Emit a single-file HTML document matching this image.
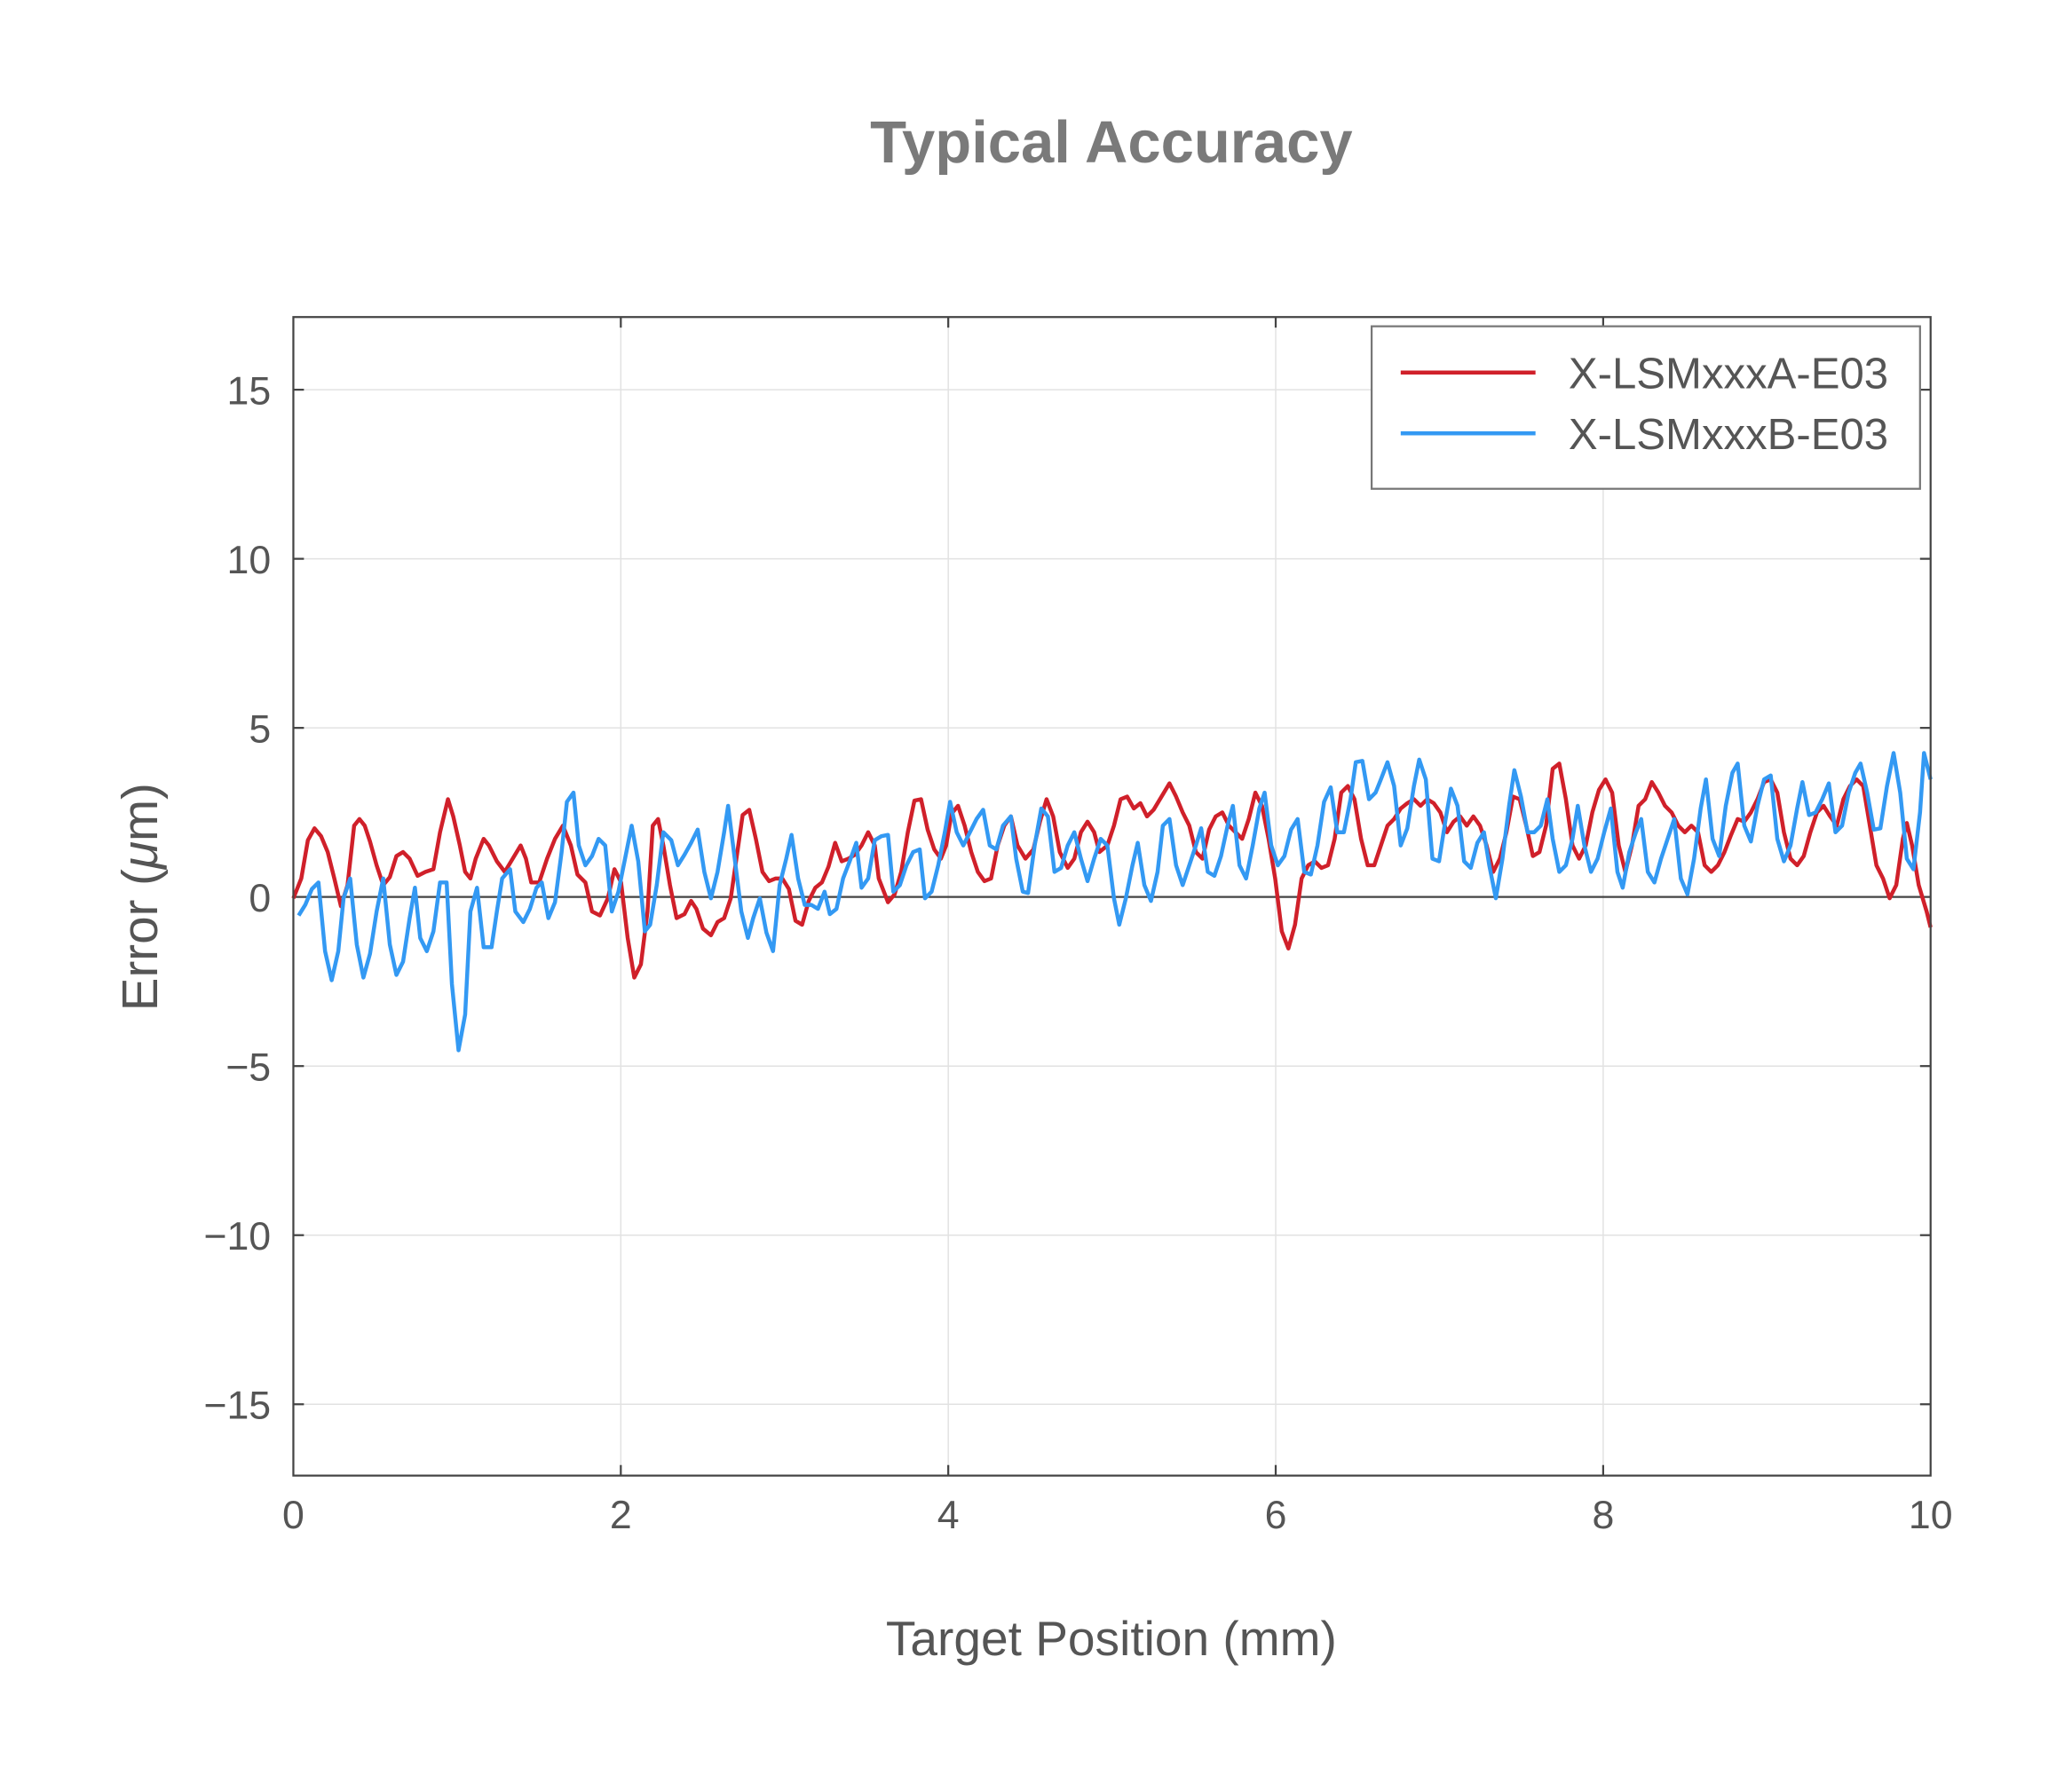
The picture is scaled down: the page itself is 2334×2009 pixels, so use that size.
<!DOCTYPE html>
<html><head><meta charset="utf-8"><style>
html,body{margin:0;padding:0;background:#fff;}
svg{display:block;}
text{font-family:"Liberation Sans",Arial,sans-serif;}
</style></head><body>
<svg width="2334" height="2009" viewBox="0 0 1568 1349.7" preserveAspectRatio="none" xmlns="http://www.w3.org/2000/svg">
<rect width="1568" height="1349.7" fill="#fff"/>
<text x="841" y="123" text-anchor="middle" font-size="45" font-weight="bold" fill="#7a7a7a">Typical Accuracy</text>
<g stroke="#e2e2e2" stroke-width="1">
<line x1="469.8" y1="240" x2="469.8" y2="1117"/><line x1="717.6" y1="240" x2="717.6" y2="1117"/><line x1="965.4" y1="240" x2="965.4" y2="1117"/><line x1="1213.2" y1="240" x2="1213.2" y2="1117"/>
<line x1="222" y1="295" x2="1461" y2="295"/><line x1="222" y1="423" x2="1461" y2="423"/><line x1="222" y1="551" x2="1461" y2="551"/><line x1="222" y1="807" x2="1461" y2="807"/><line x1="222" y1="935" x2="1461" y2="935"/><line x1="222" y1="1063" x2="1461" y2="1063"/>
</g>
<line x1="222" y1="679" x2="1461" y2="679" stroke="#444" stroke-width="1.5"/>
<g stroke="#444" stroke-width="1.5">
<line x1="222" y1="295" x2="230" y2="295"/><line x1="222" y1="423" x2="230" y2="423"/><line x1="222" y1="551" x2="230" y2="551"/><line x1="222" y1="807" x2="230" y2="807"/><line x1="222" y1="935" x2="230" y2="935"/><line x1="222" y1="1063" x2="230" y2="1063"/>
<line x1="1453" y1="295" x2="1461" y2="295"/><line x1="1453" y1="423" x2="1461" y2="423"/><line x1="1453" y1="551" x2="1461" y2="551"/><line x1="1453" y1="807" x2="1461" y2="807"/><line x1="1453" y1="935" x2="1461" y2="935"/><line x1="1453" y1="1063" x2="1461" y2="1063"/>
<line x1="469.8" y1="1117" x2="469.8" y2="1109"/><line x1="717.6" y1="1117" x2="717.6" y2="1109"/><line x1="965.4" y1="1117" x2="965.4" y2="1109"/><line x1="1213.2" y1="1117" x2="1213.2" y2="1109"/>
<line x1="469.8" y1="240" x2="469.8" y2="248"/><line x1="717.6" y1="240" x2="717.6" y2="248"/><line x1="965.4" y1="240" x2="965.4" y2="248"/><line x1="1213.2" y1="240" x2="1213.2" y2="248"/>
</g>
<polyline fill="none" stroke="#d0202a" stroke-width="3" stroke-linejoin="round" points="222,680 228,665 233,636 238,627 243,633 248,645 253,665 258,686 263,670 268,625 272,620 276,625 280,637 285,655 290,670 295,664 300,648 305,645 310,650 316,663 322,660 328,658 333,630 339,605 343,618 348,640 352,660 356,665 360,650 366,635 370,640 376,652 382,660 388,650 394,640 398,650 402,668 408,668 414,650 420,635 426,625 432,640 437,662 443,668 448,690 454,693 460,680 465,658 470,668 475,710 480,740 485,730 490,690 494,625 498,620 502,640 507,670 512,695 518,692 523,682 527,688 532,703 538,708 543,698 548,695 553,680 558,645 562,617 567,613 572,635 577,660 582,667 587,665 592,665 597,673 602,697 607,700 612,682 617,672 622,668 627,656 632,638 637,652 642,650 647,647 652,640 657,630 662,640 665,665 672,683 677,677 682,660 687,630 692,606 697,605 702,628 707,643 712,650 716,640 720,616 725,610 730,625 735,645 740,660 745,667 750,665 755,640 760,625 765,618 770,640 776,650 782,643 787,622 792,605 797,618 802,645 808,657 813,650 818,630 823,622 828,630 832,645 838,640 843,625 848,605 853,603 858,612 863,608 868,618 873,613 879,603 885,593 890,603 895,615 900,625 905,645 910,650 915,628 920,618 925,615 930,625 935,630 940,635 945,620 950,600 955,610 960,635 965,665 970,705 975,718 980,700 985,665 990,655 995,652 1000,657 1005,655 1010,635 1015,600 1020,595 1025,605 1030,635 1035,655 1040,655 1045,640 1050,625 1055,620 1060,612 1065,608 1070,605 1075,610 1080,605 1085,608 1090,615 1095,630 1100,622 1105,618 1110,625 1115,618 1120,625 1125,640 1130,660 1135,650 1140,630 1145,603 1150,605 1155,625 1160,648 1165,645 1170,625 1175,582 1180,578 1185,605 1190,640 1195,650 1200,640 1205,615 1210,598 1215,590 1220,600 1225,640 1230,660 1235,640 1240,610 1245,605 1250,592 1255,600 1260,610 1265,615 1270,625 1275,630 1280,625 1285,630 1290,655 1295,660 1300,655 1305,645 1310,632 1315,620 1320,622 1325,615 1330,605 1335,592 1340,590 1345,600 1350,630 1355,650 1360,655 1365,648 1370,630 1375,615 1380,610 1385,618 1390,625 1395,605 1400,595 1405,590 1410,595 1415,625 1420,655 1425,665 1430,680 1435,670 1440,635 1443,623 1447,640 1452,670 1458,690 1461,702"/>
<polyline fill="none" stroke="#3399f3" stroke-width="3" stroke-linejoin="round" points="226,693 231,685 236,673 241,668 246,720 251,742 256,720 260,680 265,665 270,715 275,740 280,722 285,690 290,665 295,715 300,738 305,728 310,695 314,672 318,710 323,720 328,705 333,668 338,668 342,745 347,795 352,768 356,690 361,672 366,717 372,717 376,690 380,665 386,658 390,690 396,698 401,688 406,672 410,668 415,695 420,683 425,645 429,607 434,600 438,640 443,655 448,648 453,635 458,640 463,690 468,675 473,650 478,625 483,652 488,705 492,700 497,670 502,630 508,636 513,655 518,647 523,638 528,628 533,660 538,680 543,660 548,630 551,610 556,650 561,690 566,710 570,695 575,680 580,706 585,720 590,670 595,650 599,632 604,665 609,685 614,685 619,688 624,675 628,692 633,688 638,665 643,652 648,638 652,672 657,665 662,636 667,633 672,632 676,675 681,670 686,655 691,645 696,643 700,680 705,675 710,655 715,630 719,607 724,630 729,640 734,630 739,620 744,613 749,640 754,643 759,625 765,618 769,650 774,675 778,676 783,640 788,612 793,618 798,660 803,657 808,640 813,630 818,650 823,667 828,650 833,635 838,640 843,680 847,700 852,680 857,655 861,638 866,670 871,682 876,660 880,625 885,620 890,655 895,670 900,655 905,640 909,627 914,660 919,663 924,648 929,625 933,610 938,655 943,665 948,640 953,612 957,600 962,640 967,655 972,648 977,628 982,620 987,660 992,662 997,640 1002,607 1007,596 1012,630 1017,630 1022,605 1026,577 1031,576 1036,605 1041,600 1045,590 1050,577 1055,595 1060,640 1065,627 1070,595 1074,575 1079,590 1084,650 1089,652 1094,620 1098,597 1103,610 1108,652 1113,657 1118,638 1123,630 1127,655 1132,680 1137,650 1142,610 1146,583 1151,603 1156,630 1161,630 1166,625 1171,605 1175,635 1180,660 1185,655 1190,635 1194,610 1199,640 1204,660 1209,650 1214,630 1219,612 1224,660 1228,672 1233,645 1238,630 1242,620 1247,660 1252,668 1257,650 1262,635 1267,620 1272,665 1277,677 1282,650 1287,612 1291,590 1296,635 1301,648 1306,610 1311,585 1315,578 1320,625 1325,637 1330,610 1335,590 1340,587 1345,635 1350,652 1355,640 1360,612 1364,592 1369,617 1374,615 1379,605 1384,593 1389,630 1394,625 1399,600 1404,585 1408,578 1413,600 1418,628 1423,627 1428,595 1433,570 1438,600 1443,650 1448,658 1453,615 1456,570 1461,590"/>
<rect x="222" y="240" width="1239" height="877" fill="none" stroke="#444" stroke-width="1.5"/>
<rect x="1038" y="247" width="415" height="123" fill="#fff" stroke="#777" stroke-width="1.5"/>
<line x1="1060" y1="282" x2="1162" y2="282" stroke="#d0202a" stroke-width="3"/>
<line x1="1060" y1="328" x2="1162" y2="328" stroke="#3399f3" stroke-width="3"/>
<g font-size="33" fill="#555">
<text x="1187" y="294">X-LSMxxxA-E03</text>
<text x="1187" y="340">X-LSMxxxB-E03</text>
</g>
<g font-size="30" fill="#555" text-anchor="end">
<text x="205" y="306">15</text><text x="205" y="434">10</text><text x="205" y="562">5</text><text x="205" y="690">0</text><text x="205" y="818">−5</text><text x="205" y="946">−10</text><text x="205" y="1074">−15</text>
</g>
<g font-size="30" fill="#555" text-anchor="middle">
<text x="222" y="1157">0</text><text x="469.8" y="1157">2</text><text x="717.6" y="1157">4</text><text x="965.4" y="1157">6</text><text x="1213.2" y="1157">8</text><text x="1461" y="1157">10</text>
</g>
<text x="841" y="1253" text-anchor="middle" font-size="37" fill="#555">Target Position (mm)</text>
<text transform="translate(119,679) rotate(-90)" text-anchor="middle" font-size="38" fill="#555">Error (<tspan font-style="italic">μ</tspan>m)</text>
</svg>
</body></html>
